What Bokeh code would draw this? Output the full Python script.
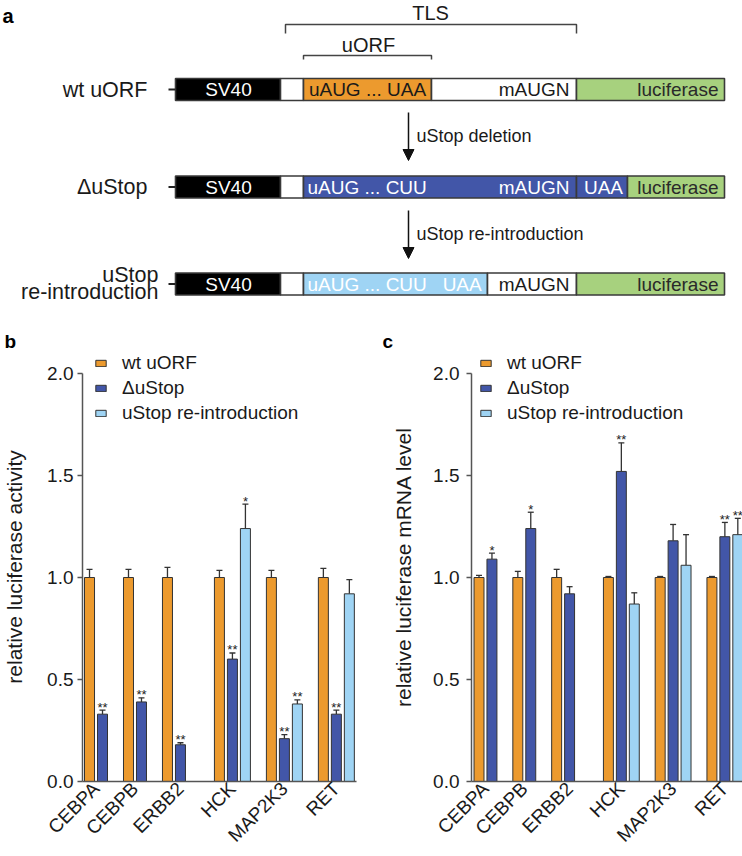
import math
from bokeh.plotting import figure
from bokeh.models import (Range1d, FixedTicker, PrintfTickFormatter, Whisker, TeeHead,
                          ColumnDataSource, Legend, LegendItem, Arrow, NormalHead)
from bokeh.layouts import column, row
from bokeh.embed import file_html
from bokeh.resources import INLINE
from bokeh.core.properties import value

FONT = "Liberation Sans"
ORANGE = "#EC9A2E"
BLUE = "#4256A8"
LIGHT = "#9FD4F4"
GREEN = "#A7D17E"
EDGE = "#333333"
AXIS = "#555555"
TXT = "#1a1a1a"

# ---------------- data ----------------
genes = ["CEBPA", "CEBPB", "ERBB2", "HCK", "MAP2K3", "RET"]
series_names = ["wt uORF", "ΔuStop", "uStop re-introduction"]
y_ticks = [0.0, 0.5, 1.0, 1.5, 2.0]

# panel b: relative luciferase activity
act_wt = [1.00, 1.00, 1.00, 1.00, 1.00, 1.00]
act_wt_err = [0.04, 0.04, 0.05, 0.035, 0.035, 0.045]
act_del = [0.33, 0.39, 0.18, 0.60, 0.21, 0.33]
act_del_err = [0.02, 0.02, 0.01, 0.03, 0.02, 0.02]
act_re = [None, None, None, 1.24, 0.38, 0.92]
act_re_err = [None, None, None, 0.12, 0.02, 0.07]
act_del_sig = ["**", "**", "**", "**", "**", "**"]
act_re_sig = ["", "", "", "*", "**", ""]

# panel c: relative luciferase mRNA level
mrna_wt = [1.00, 1.00, 1.00, 1.00, 1.00, 1.00]
mrna_wt_err = [0.01, 0.03, 0.04, 0.005, 0.005, 0.005]
mrna_del = [1.09, 1.24, 0.92, 1.52, 1.18, 1.20]
mrna_del_err = [0.03, 0.08, 0.035, 0.14, 0.08, 0.07]
mrna_re = [None, None, None, 0.87, 1.06, 1.21]
mrna_re_err = [None, None, None, 0.055, 0.15, 0.08]
mrna_del_sig = ["*", "*", "", "**", "", "**"]
mrna_re_sig = ["", "", "", "", "", "**"]

# panel a: construct texts
construct_labels = ["wt uORF", "ΔuStop", "uStop", "re-introduction"]
step_labels = ["uStop deletion", "uStop re-introduction"]
bracket_labels = ["TLS", "uORF"]

# ---------------- layout (diagram geometry, page pixels) ----------------
row_y = [89, 186.5, 283.5]
half_h = 11
seg_row = [0, 0, 0, 0, 0, 1, 1, 1, 1, 1, 2, 2, 2, 2, 2]
seg_left = [175, 280, 303, 431, 576, 175, 280, 303, 576, 627, 175, 280, 303, 487, 576]
seg_right = [280, 303, 431, 576, 724, 280, 303, 576, 627, 724, 280, 303, 487, 576, 724]
seg_color = ["black", "white", ORANGE, "white", GREEN,
             "black", "white", BLUE, BLUE, GREEN,
             "black", "white", LIGHT, "white", GREEN]

NB = "\u00a0"
# texts inside constructs: (x, row, text, colour, align)
inner_texts = [
    (228, 0, "SV40", "white", "center"),
    (367, 0, "uAUG ... UAA", TXT, "center"),
    (569, 0, "mAUGN", TXT, "right"),
    (718, 0, "luciferase", "#2a2a2a", "right"),
    (228, 1, "SV40", "white", "center"),
    (307, 1, "uAUG ... CUU", "white", "left"),
    (569, 1, "mAUGN", "white", "right"),
    (603, 1, "UAA", "white", "center"),
    (718, 1, "luciferase", "#2a2a2a", "right"),
    (228, 2, "SV40", "white", "center"),
    (307, 2, "uAUG ... CUU" + NB * 3 + "UAA", "white", "left"),
    (569, 2, "mAUGN", TXT, "right"),
    (718, 2, "luciferase", "#2a2a2a", "right"),
]

# ---------------- panel a ----------------
pa = figure(width=742, height=326, x_range=Range1d(0, 742), y_range=Range1d(326, 0),
            toolbar_location=None, output_backend="svg", min_border=0,
            outline_line_color=None)
pa.xaxis.visible = False
pa.yaxis.visible = False
pa.xgrid.visible = False
pa.ygrid.visible = False

tops = [row_y[r] - half_h for r in seg_row]
bots = [row_y[r] + half_h for r in seg_row]
pa.quad(left=seg_left, right=seg_right, top=tops, bottom=bots,
        fill_color=seg_color, line_color="#3a3a3a", line_width=1.6)

# connector dashes from labels
pa.segment(x0=[168, 168, 168], x1=[175, 175, 175], y0=row_y, y1=row_y,
           line_color="#222222", line_width=2)

for align in ["left", "center", "right"]:
    sel = [t for t in inner_texts if t[4] == align]
    pa.text(x=[t[0] for t in sel], y=[row_y[t[1]] for t in sel],
            text=[t[2] for t in sel], text_color=[t[3] for t in sel],
            text_font=value(FONT), text_font_size="19px",
            text_align=align, text_baseline="middle")

# construct labels
pa.text(x=[147, 147], y=[row_y[0], row_y[1]], text=construct_labels[:2],
        text_font=value(FONT), text_font_size="21.5px", text_align="right",
        text_baseline="middle", text_color=TXT)
pa.text(x=[158, 158], y=[274, 291], text=construct_labels[2:],
        text_font=value(FONT), text_font_size="21.5px", text_align="right",
        text_baseline="middle", text_color=TXT)

# brackets
pa.multi_line(xs=[[285, 285, 576, 576], [303, 303, 431, 431]],
              ys=[[33, 24, 24, 33], [59, 55, 55, 59]],
              line_color="#444444", line_width=1.5)
pa.text(x=[430, 368], y=[12, 44], text=bracket_labels, text_font=value(FONT),
        text_font_size="20px", text_align="center", text_baseline="middle",
        text_color=TXT)

# arrows
for (y0, y1) in [(112, 160), (210, 258)]:
    pa.add_layout(Arrow(x_start=408, y_start=y0, x_end=408, y_end=y1,
                        line_color="#111111", line_width=1.5,
                        end=NormalHead(size=11, fill_color="#111111",
                                       line_color="#111111", line_width=1)))
pa.text(x=[416, 416], y=[135, 233], text=step_labels, text_font=value(FONT),
        text_font_size="18px", text_align="left", text_baseline="middle",
        text_color=TXT)

pa.text(x=[2], y=[4], text=["a"], text_font=value(FONT), text_font_size="20px",
        text_font_style="bold", text_baseline="top", text_align="left",
        text_color="black")

# ---------------- panels b and c ----------------
group_start = [0, 6, 12, 20, 28, 36]
group_slots = [2, 2, 3, 3, 3, 3]
slot = 2
bar_w = 1.54
Y_TOP = 2.103   # frame extends a little above the 2.0 tick (axis bounded at 2.0)


def bar_panel(wt, wt_e, dl, dl_e, re_, re_e, dl_sig, re_sig, ylabel, letter,
              bl, fw, br, x_lo, x_hi, tick_standoff, lab_standoff, leg_x, letter_off):
    p = figure(frame_width=fw, frame_height=429, min_border_left=bl,
               min_border_right=br, min_border_top=26, min_border_bottom=72,
               x_range=Range1d(x_lo, x_hi), y_range=Range1d(0, Y_TOP),
               toolbar_location=None, output_backend="svg",
               outline_line_color=None, title=letter)
    p.title.text_font = FONT
    p.title.text_font_size = "19px"
    p.title.text_font_style = "bold"
    p.title.text_color = "black"
    p.title.align = "left"
    p.title.offset = letter_off
    p.title.standoff = 2
    p.xgrid.visible = False
    p.ygrid.visible = False

    rends = []
    for k, (vals, errs, sigs, color) in enumerate(
            [(wt, wt_e, None, ORANGE), (dl, dl_e, dl_sig, BLUE), (re_, re_e, re_sig, LIGHT)]):
        xs, vs, ups, ss = [], [], [], []
        for i, v in enumerate(vals):
            if v is None:
                continue
            xs.append(group_start[i] + k * slot)
            vs.append(v)
            ups.append(v + errs[i])
            ss.append(sigs[i] if sigs else "")
        src = ColumnDataSource(dict(x=xs, top=vs, upper=ups, sig=ss))
        r = p.vbar(x="x", top="top", width=bar_w, bottom=0, source=src,
                   fill_color=color, line_color=EDGE, line_width=1)
        rends.append(r)
        p.add_layout(Whisker(source=src, base="x", upper="upper", lower="top",
                             dimension="height", line_color=EDGE, line_width=1.3,
                             lower_head=None,
                             upper_head=TeeHead(size=6, line_color=EDGE, line_width=1.3)))
        if sigs:
            p.text(x="x", y="upper", text="sig", source=src, text_font=value(FONT),
                   text_font_size="13px", text_align="center",
                   text_baseline="alphabetic", y_offset=-3, text_color="#222222")

    centers = [s + slot * (n - 1) / 2 for s, n in zip(group_start, group_slots)]

    p.xaxis.ticker = FixedTicker(ticks=centers)
    p.xaxis.major_label_overrides = {c: g for c, g in zip(centers, genes)}
    p.xaxis.major_label_orientation = math.pi / 4
    p.xaxis.major_tick_out = 0
    p.xaxis.major_tick_in = 0
    p.xaxis.minor_tick_out = 0
    p.xaxis.minor_tick_in = 0
    p.xaxis.major_label_standoff = 4
    p.xaxis.major_label_text_font = FONT
    p.xaxis.major_label_text_font_size = "19px"
    p.xaxis.major_label_text_color = TXT

    p.yaxis.ticker = FixedTicker(ticks=y_ticks)
    p.yaxis.bounds = (y_ticks[0], y_ticks[-1])
    p.yaxis.formatter = PrintfTickFormatter(format="%.1f")
    p.yaxis.major_tick_out = 5
    p.yaxis.major_tick_in = 0
    p.yaxis.minor_tick_out = 0
    p.yaxis.minor_tick_in = 0
    p.yaxis.major_label_standoff = tick_standoff
    p.yaxis.major_label_text_font = FONT
    p.yaxis.major_label_text_font_size = "19px"
    p.yaxis.major_label_text_color = TXT
    p.yaxis.axis_label = ylabel
    p.yaxis.axis_label_text_font = FONT
    p.yaxis.axis_label_text_font_size = "21px"
    p.yaxis.axis_label_text_font_style = "normal"
    p.yaxis.axis_label_text_color = TXT
    p.yaxis.axis_label_standoff = lab_standoff

    for ax in (p.xaxis, p.yaxis):
        ax.axis_line_color = AXIS
        ax.axis_line_width = 1.5
        ax.major_tick_line_color = AXIS
        ax.major_tick_line_width = 1.5

    legend = Legend(items=[LegendItem(label=n, renderers=[r]) for n, r in zip(series_names, rends)],
                    location=(leg_x, 357), glyph_width=13, glyph_height=8,
                    label_standoff=15, label_text_font=FONT, label_text_font_size="19px",
                    label_text_color=TXT, label_height=22, spacing=3, padding=0, margin=0,
                    border_line_color=None, background_fill_alpha=0)
    p.add_layout(legend)
    return p


pb = bar_panel(act_wt, act_wt_err, act_del, act_del_err, act_re, act_re_err,
               act_del_sig, act_re_sig, "relative luciferase activity", "b",
               bl=81, fw=274, br=16, x_lo=-1.08, x_hi=41.1,
               tick_standoff=4, lab_standoff=18, leg_x=12, letter_off=-78)
pc = bar_panel(mrna_wt, mrna_wt_err, mrna_del, mrna_del_err, mrna_re, mrna_re_err,
               mrna_del_sig, mrna_re_sig, "relative luciferase mRNA level", "c",
               bl=99, fw=272, br=0, x_lo=-1.16, x_hi=40.88,
               tick_standoff=7, lab_standoff=15, leg_x=8, letter_off=-89)

layout = column(pa, row(pb, pc))
open("out.html", "w").write(file_html(layout, INLINE))
